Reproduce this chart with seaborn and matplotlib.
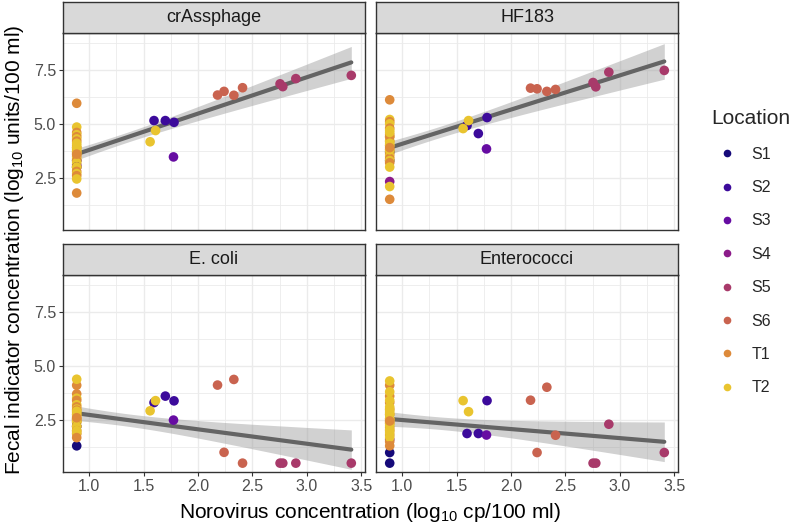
import matplotlib
matplotlib.use('Agg')

import numpy as np
import pandas as pd
import seaborn as sns
import matplotlib.pyplot as plt
from matplotlib.lines import Line2D
from matplotlib.ticker import MultipleLocator


sns.set_style("white")
plt.rcParams['font.family'] = ['Liberation Sans', 'DejaVu Sans']
plt.rcParams['mathtext.fontset'] = 'custom'
plt.rcParams['mathtext.rm'] = 'Liberation Sans'
plt.rcParams['mathtext.it'] = 'Liberation Sans:italic'

# ---- data ----
locations = ["S1", "S2", "S3", "S4", "S5", "S6", "T1", "T2"]
loc_colors = ["#160a7a", "#3c0a9b", "#660ca2", "#8c1b8a", "#a83a6a",
              "#c9634f", "#dd8a3a", "#e9c42f"]
indicators = ["crAssphage", "HF183", "E. coli", "Enterococci"]

sample_loc = ["T1", "T2", "T1", "T2", "S1", "T1", "T2", "T1", "T2", "T1",
              "T2", "S4", "T1", "T2", "T1", "T2", "T1", "T2", "S1", "T1",
              "T2", "T1", "T2", "T1", "T2", "T1", "T2", "T2", "T2", "T1",
              "S2", "S2", "S2", "S3", "T2", "T2",
              "S6", "S6", "S6", "S6", "S5", "S5", "S5", "S5"]
norovirus = [0.885] * 30 + [1.596, 1.70, 1.78, 1.775, 1.61, 1.56,
                            2.18, 2.24, 2.33, 2.41, 2.755, 2.78, 2.90, 3.41]
crassphage = [5.95, 4.85, 4.60, 4.50, 3.30, 4.40, 4.30, 4.20, 4.00, 3.90,
              3.80, 3.10, 3.70, 3.60, 3.50, 3.40, 3.30, 3.20, 3.00, 3.00,
              3.00, 2.80, 2.70, 2.60, 2.45, 1.80, 3.70, 3.90, 4.10, 3.60,
              5.15, 5.15, 5.07, 3.47, 4.69, 4.17,
              6.33, 6.50, 6.32, 6.67, 6.85, 6.72, 7.09, 7.24]
hf183 = [6.11, 5.20, 5.10, 5.00, 3.70, 4.80, 4.70, 4.50, 4.40, 4.20,
         4.20, 2.33, 4.00, 4.00, 3.80, 3.70, 3.60, 3.50, 3.30, 3.40,
         3.30, 3.20, 3.00, 4.40, 2.10, 1.51, 3.80, 4.10, 4.60, 3.90,
         4.92, 4.55, 5.29, 3.84, 5.15, 4.78,
         6.65, 6.62, 6.50, 6.59, 6.91, 6.71, 7.39, 7.47]
ecoli = [4.10, 4.38, 3.70, 3.50, 1.30, 3.40, 3.20, 3.10, 3.00, 2.95,
         2.85, 2.50, 2.75, 2.65, 2.55, 2.45, 2.40, 2.40, 2.20, 2.20,
         2.20, 2.00, 2.00, 1.85, 1.90, 1.68, 2.55, 2.90, 2.75, 2.60,
         3.30, 3.60, 3.38, 2.49, 3.39, 2.92,
         4.11, 1.00, 4.37, 0.50, 0.50, 0.50, 0.50, 0.50]
enterococci = [4.10, 4.30, 3.60, 3.80, 0.99, 3.30, 3.40, 3.00, 3.10, 2.75,
               2.95, 1.60, 2.55, 2.75, 2.35, 2.45, 2.15, 2.25, 0.50, 2.00,
               2.05, 1.80, 1.90, 1.50, 1.70, 1.30, 2.35, 2.55, 2.85, 2.45,
               1.87, 1.87, 3.39, 1.80, 2.88, 3.39,
               3.41, 0.99, 4.01, 1.79, 0.50, 0.50, 2.30, 0.99]

wide = pd.DataFrame({"Location": sample_loc, "Norovirus": norovirus,
                     "crAssphage": crassphage, "HF183": hf183,
                     "E. coli": ecoli, "Enterococci": enterococci})
df = wide.melt(id_vars=["Location", "Norovirus"], value_vars=indicators,
               var_name="Indicator", value_name="Value")

T975 = 2.018  # t quantile for the 95% band, n - 2 = 42 df


def lm_band(x, y, grid):
    # analytic confidence band of the linear fit (like geom_smooth(method="lm"))
    x = np.asarray(x, float)
    y = np.asarray(y, float)
    b, a = np.polyfit(x, y, 1)
    resid = y - (a + b * x)
    s = np.sqrt(np.sum(resid ** 2) / (len(x) - 2))
    sxx = np.sum((x - x.mean()) ** 2)
    se = s * np.sqrt(1 / len(x) + (grid - x.mean()) ** 2 / sxx)
    fit = a + b * grid
    return fit - T975 * se, fit + T975 * se


# ---- layout (pixels of a 789x524 figure) ----
W, H = 789, 524
fig = plt.figure(figsize=(W / 100, H / 100), dpi=100)

col_x = [63, 376]
row_y = [33, 275]
pw, ph, sh = 302, 197, 31

def px_axes(x, y, w, h):
    return fig.add_axes([x / W, 1 - (y + h) / H, w / W, h / H])

for k, ind in enumerate(indicators):
    r, c = divmod(k, 2)
    ax = px_axes(col_x[c], row_y[r], pw, ph)
    sub = df[df.Indicator == ind]

    grid = np.linspace(sub.Norovirus.min(), sub.Norovirus.max(), 100)
    lo, hi = lm_band(sub.Norovirus, sub.Value, grid)
    ax.fill_between(grid, lo, hi, color="#999999", alpha=0.45, lw=0, zorder=2)

    sns.regplot(data=sub, x="Norovirus", y="Value", scatter=False, ci=None,
                ax=ax, color="#646464", line_kws=dict(lw=3, zorder=3))

    sns.scatterplot(data=sub, x="Norovirus", y="Value", hue="Location",
                    hue_order=locations, palette=loc_colors, s=48,
                    linewidth=0, ax=ax, legend=False, zorder=4)

    ax.set_xlim(0.759, 3.536)
    ax.set_ylim(0.09, 9.2)
    ax.xaxis.set_major_locator(MultipleLocator(0.5))
    ax.xaxis.set_minor_locator(MultipleLocator(0.25))
    ax.set_yticks([2.5, 5.0, 7.5])
    ax.yaxis.set_minor_locator(MultipleLocator(1.25))
    ax.grid(True, which="major", color="#EBEBEB", lw=1.0)
    ax.grid(True, which="minor", color="#EBEBEB", lw=0.6)
    ax.set_axisbelow(True)
    for s in ax.spines.values():
        s.set_color("#333333")
        s.set_linewidth(1.0)
    ax.tick_params(which="major", length=3, width=0.8, color="#333333",
                   labelsize=11.5, labelcolor="#4D4D4D", pad=2,
                   left=(c == 0), labelleft=(c == 0),
                   bottom=(r == 1), labelbottom=(r == 1))
    ax.tick_params(which="minor", length=0)
    ax.set_yticklabels(["2.5", "5.0", "7.5"])
    ax.set_xlabel("")
    ax.set_ylabel("")

    strip = px_axes(col_x[c], row_y[r] - sh, pw, sh)
    strip.set_facecolor("#D9D9D9")
    strip.set_xticks([])
    strip.set_yticks([])
    for s in strip.spines.values():
        s.set_color("#333333")
        s.set_linewidth(1.0)
    strip.text(0.5, 0.5, ind, ha="center", va="center", fontsize=13,
               color="#1A1A1A", transform=strip.transAxes)

fig.text(370 / W, 1 - 512 / H, r"Norovirus concentration (log$_{10}$ cp/100 ml)",
         ha="center", va="center", fontsize=15, color="black")
fig.text(15 / W, 1 - 250 / H,
         r"Fecal indicator concentration (log$_{10}$ units/100 ml)",
         ha="center", va="center", rotation=90, fontsize=15, color="black")

handles = [Line2D([], [], marker="o", ls="", color=col, markersize=5.5,
                  markeredgewidth=0) for col in loc_colors]
fig.legend(handles, locations, title="Location", loc="upper left",
           bbox_to_anchor=(705 / W, 1 - 103 / H), frameon=False,
           fontsize=11.5, title_fontsize=15, labelspacing=1.15,
           handletextpad=0.5, borderaxespad=0, alignment="left")

fig.savefig("out.png", dpi=100)
